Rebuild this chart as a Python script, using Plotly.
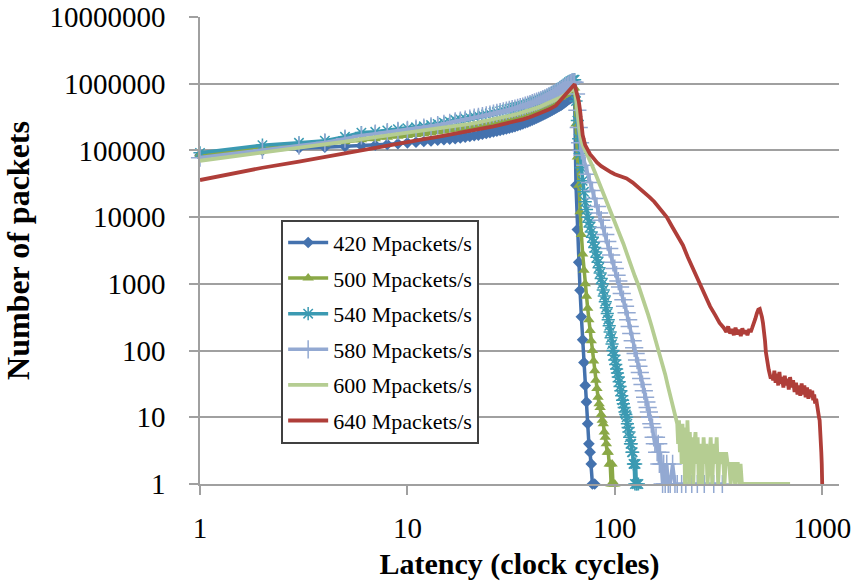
import plotly.graph_objects as go

# ---------------- data (latency in clock cycles, number of packets) ----------------
lat_420 = list(range(1, 79)) + [80]
pk_420 = [85000, 100000, 108000, 112000, 115000, 118000, 120000, 123000, 126000, 130000,
          133000, 136000, 139000, 142000, 145000, 148000, 150000, 154000, 158000, 162000,
          166000, 170000, 175000, 180000, 185000, 190000, 195000, 200000, 205000, 210000,
          215000, 222000, 228000, 235000, 242000, 250000, 258000, 266000, 275000, 285000,
          295000, 305000, 316000, 327000, 338000, 350000, 362000, 375000, 388000, 400000,
          415000, 430000, 445000, 460000, 475000, 495000, 515000, 535000, 560000, 580000,
          600000, 620000, 640000, 650000,
          30000, 6500, 2100, 800, 320, 145, 66, 30, 17, 8, 4, 3, 2, 1, 1]

lat_500 = list(range(1, 99)) + [100]
pk_500 = [88000, 108000, 118000, 125000, 135000, 145000, 150000, 157000, 163000, 168000,
          173000, 178000, 184000, 190000, 196000, 202000, 208000, 214000, 220000, 226000,
          232000, 238000, 245000, 252000, 259000, 266000, 273000, 280000, 288000, 296000,
          304000, 312000, 320000, 330000, 340000, 350000, 360000, 370000, 382000, 394000,
          406000, 418000, 430000, 445000, 460000, 475000, 490000, 505000, 520000, 540000,
          560000, 580000, 600000, 620000, 640000, 665000, 690000, 715000, 740000, 770000,
          800000, 830000, 850000, 860000,
          250000, 80000, 30000, 12000, 5500, 2800, 1600, 1000, 650, 430,
          290, 200, 140, 100, 70, 50, 36, 27, 20, 16,
          14, 11, 9, 8, 6, 5, 4, 3, 3, 2,
          2, 1, 2, 1, 1]

lat_540 = list(range(1, 129)) + [130]
pk_540 = [92000, 120000, 130000, 140000, 160000, 185000, 190000, 200000, 208000, 215000,
          222000, 230000, 240000, 250000, 260000, 270000, 285000, 292000, 300000, 310000,
          320000, 330000, 336000, 345000, 355000, 365000, 375000, 385000, 395000, 405000,
          415000, 425000, 435000, 445000, 455000, 465000, 480000, 495000, 510000, 525000,
          540000, 555000, 570000, 590000, 610000, 630000, 650000, 670000, 690000, 715000,
          740000, 770000, 800000, 830000, 860000, 890000, 930000, 970000, 1010000, 1050000,
          1090000, 1120000, 1150000, 1150000,
          550000, 280000, 150000, 90000, 55000, 35000, 24000, 17000, 13000, 10000,
          8400, 7100, 6000, 5000, 4200, 3500, 3000, 2500, 2100, 1750,
          1450, 1200, 1000, 810, 660, 540, 440, 360, 290, 235,
          190, 155, 125, 100, 85, 72, 62, 53, 46, 40,
          34, 29, 25, 21, 18, 16, 14, 12, 11, 10,
          8, 7, 6, 5, 4, 4, 3, 3, 2, 2,
          1, 2, 1, 1, 1]

lat_580 = list(range(1, 66)) + [66, 67, 68, 69, 70, 72, 74, 76, 78, 80, 82, 84, 86, 88, 90,
                                  92, 94, 96, 98, 100, 102, 104, 106, 108, 110, 112, 114, 116,
                                  118, 120, 122, 124, 126, 128, 130, 132, 134, 136, 138, 140,
                                  142, 144, 146, 148, 150, 152, 154, 156, 158, 160, 162, 164,
                                  166, 168, 170, 172, 175, 178, 181, 185, 190, 195, 200, 210,
                                  220, 235, 250, 270, 300, 330]
pk_580 = [78000, 102000, 118000, 132000, 150000, 168000, 178000, 188000, 196000, 204000,
          212000, 220000, 230000, 240000, 250000, 260000, 272000, 280000, 290000, 300000,
          310000, 318000, 326000, 335000, 345000, 355000, 365000, 375000, 385000, 395000,
          405000, 415000, 425000, 435000, 445000, 455000, 468000, 482000, 496000, 510000,
          524000, 538000, 553000, 570000, 588000, 606000, 625000, 645000, 665000, 688000,
          710000, 735000, 760000, 785000, 815000, 845000, 875000, 905000, 940000, 975000,
          1010000, 1040000, 1060000, 1050000, 700000,
          400000, 220000, 130000, 100000, 85000, 60000, 44000, 33000, 25000, 19000,
          14500, 11500, 9000, 7000, 5500, 4300, 3400, 2700, 2100, 1700,
          1350, 1100, 900, 720, 580, 460, 370, 290, 230, 180,
          140, 110, 90, 72, 58, 47, 38, 31, 25, 20,
          17, 14, 12, 10, 8, 7, 5, 4, 5, 3,
          4, 2, 3, 2, 1, 2, 1, 2, 1, 1,
          2, 1, 1, 1, 1, 1, 1, 1, 1, 1]

lat_600 = [1, 2, 3, 4, 5, 6, 7, 8, 9, 10, 12, 14, 16, 18, 20, 22, 24, 26, 28, 30, 32, 34, 36,
           38, 40, 42, 44, 46, 48, 50, 52, 54, 56, 58, 60, 62, 63, 64, 65, 66, 67, 68, 69, 70,
           72, 74, 76, 78, 80, 83, 86, 90, 95, 100, 105, 110, 115, 120, 125, 130, 135, 140,
           145, 150, 155, 160, 165, 170, 175, 180, 185, 190, 195, 200, 202, 204, 206, 208,
           210, 212, 214, 216, 218, 220, 222, 224, 226, 228, 230, 233, 236, 239, 242, 245,
           248, 251, 254, 257, 260, 264, 268, 272, 276, 280, 285, 290, 295, 300, 305, 310,
           315, 320, 326, 332, 338, 344, 350, 356, 362, 368, 374, 380, 386, 392, 398, 404,
           410, 450, 500, 600, 700]
pk_600 = [70000, 92000, 108000, 122000, 135000, 148000, 158000, 166000, 174000, 181000,
          195000, 208000, 222000, 236000, 250000, 263000, 277000, 292000, 307000, 322000,
          338000, 355000, 372000, 392000, 412000, 435000, 460000, 487000, 515000, 545000,
          578000, 612000, 650000, 690000, 740000, 800000, 850000, 900000, 600000, 380000,
          250000, 180000, 140000, 120000, 100000, 85000, 70000, 58000, 48000, 36000,
          27000, 19000, 13000, 9000, 6000, 4000, 2700, 1800, 1300, 950,
          680, 480, 340, 240, 170, 120, 90, 62, 44, 30,
          21, 14, 10, 8, 4, 9, 3, 7, 2, 8,
          3, 6, 1, 7, 2, 9, 4, 1, 6, 2,
          5, 1, 4, 6, 2, 5, 1, 3, 4, 1,
          5, 2, 4, 1, 3, 5, 1, 4, 2, 5,
          1, 3, 2, 3, 1, 3, 2, 2, 1, 2,
          2, 1, 2, 2, 1, 2, 1, 1, 1, 1,
          1]

lat_640 = [1, 2, 3, 4, 5, 6, 7, 8, 9, 10, 12, 14, 16, 18, 20, 23, 26, 30, 33, 36, 40, 44, 48,
           52, 56, 58, 60, 62, 64, 66, 67, 68, 69, 70, 72, 74, 76, 78, 82, 86, 91, 96, 100,
           107, 114, 122, 130, 140, 147, 155, 165, 178, 190, 200, 213, 225, 240, 255, 270,
           288, 305, 320, 335, 345, 352, 360, 368, 375, 382, 390, 398, 405, 412, 420, 428,
           436, 445, 452, 460, 468, 476, 484, 492, 500, 506, 512, 518, 524, 530, 535, 540,
           546, 552, 558, 565, 572, 580, 588, 596, 605, 614, 622, 630, 640, 650, 660, 670,
           680, 690, 700, 712, 724, 736, 748, 760, 772, 784, 796, 808, 820, 832, 845, 858,
           870, 882, 895, 905, 915, 925, 935, 945, 955, 965, 972, 978, 984, 990, 995, 1000]
pk_640 = [36000, 55000, 68000, 80000, 92000, 103000, 112000, 120000, 127000, 134000,
          148000, 160000, 172000, 183000, 195000, 212000, 230000, 255000, 272000, 292000,
          325000, 365000, 410000, 470000, 600000, 700000, 780000, 880000, 980000, 700000,
          550000, 400000, 250000, 170000, 120000, 100000, 88000, 80000, 66000, 58000,
          51000, 47000, 44000, 41000, 38000, 33000, 28000, 23000, 20000, 17000,
          13500, 10000, 7000, 5300, 3800, 2500, 1600, 1000, 680, 460,
          340, 260, 220, 190, 230, 180, 210, 170, 220, 175,
          205, 165, 215, 180, 200, 170, 210, 190, 220, 250,
          300, 360, 410, 420, 380, 320, 260, 200, 140, 95,
          75, 60, 52, 45, 38, 42, 36, 50, 33, 45,
          30, 48, 32, 40, 28, 42, 30, 38, 26, 40,
          28, 36, 24, 33, 22, 30, 21, 32, 22, 30,
          20, 28, 19, 26, 20, 25, 18, 22, 16, 19,
          14, 12, 10, 9, 7, 5, 3, 2, 1]

series_names = ["420 Mpackets/s", "500 Mpackets/s", "540 Mpackets/s",
                "580 Mpackets/s", "600 Mpackets/s", "640 Mpackets/s"]

y_tickvals = [1, 10, 100, 1000, 10000, 100000, 1000000, 10000000]
y_ticktext = ["1", "10", "100", "1000", "10000", "100000", "1000000", "10000000"]
x_tickvals = [1, 10, 100, 1000]
x_ticktext = ["1", "10", "100", "1000"]

# ---------------- styles ----------------
FONT = "Liberation Serif"
styles = [
    dict(color="#4472AE", symbol="diamond", size=9, mlw=0),
    dict(color="#8AA846", symbol="triangle-up", size=10, mlw=0),
    dict(color="#3B9AB2", symbol="asterisk-open", size=11, mlw=1.5),
    dict(color="#93A9D2", symbol="cross-thin-open", size=13, mlw=1.5),
    dict(color="#B5CD92", symbol=None, size=0, mlw=0),
    dict(color="#AF3E39", symbol=None, size=0, mlw=0),
]
data = [(lat_420, pk_420), (lat_500, pk_500), (lat_540, pk_540),
        (lat_580, pk_580), (lat_600, pk_600), (lat_640, pk_640)]

fig = go.Figure()
for i, ((xs, ys), name, st) in enumerate(zip(data, series_names, styles)):
    if st["symbol"]:
        fig.add_trace(go.Scatter(
            x=xs, y=ys, name=name, mode="lines+markers", legendgroup=name,
            line=dict(color=st["color"], width=3.5),
            marker=dict(symbol=st["symbol"], size=st["size"], color=st["color"],
                        line=dict(color=st["color"], width=st["mlw"])),
            cliponaxis=False))
    else:
        fig.add_trace(go.Scatter(
            x=xs, y=ys, name=name, mode="lines", legendgroup=name,
            line=dict(color=st["color"], width=3.8)))

fig.update_layout(
    width=853, height=583,
    margin=dict(l=200, r=14, t=17, b=99, autoexpand=False),
    paper_bgcolor="white", plot_bgcolor="white",
    font=dict(family=FONT, color="black"),
    showlegend=True,
    legend=dict(x=0.127, y=0.566, xanchor="left", yanchor="top",
                bgcolor="white", bordercolor="#404040", borderwidth=2,
                font=dict(family=FONT, size=22, color="black"),
                tracegroupgap=4, itemwidth=40),
)
fig.update_xaxes(
    type="log", range=[0, 3.081], automargin=False, ticklabeloverflow="allow",
    tickvals=x_tickvals, ticktext=x_ticktext,
    tickfont=dict(family=FONT, size=29, color="black"),
    showgrid=False, showline=True, linecolor="#A0A0A0", linewidth=1.5,
    ticks="outside", ticklen=9, tickcolor="#A0A0A0", tickwidth=1.5,
    ticklabelstandoff=8, zeroline=False,
    title=dict(text="<b>Latency (clock cycles)</b>", font=dict(family=FONT, size=30, color="black"),
               standoff=10),
)
fig.update_yaxes(
    type="log", range=[0, 7], automargin=False, ticklabeloverflow="allow",
    tickvals=y_tickvals, ticktext=y_ticktext,
    tickfont=dict(family=FONT, size=29, color="black"),
    showgrid=True, gridcolor="#A0A0A0", gridwidth=1.5,
    showline=True, linecolor="#A0A0A0", linewidth=1.5,
    ticks="outside", ticklen=9, tickcolor="#A0A0A0", tickwidth=1.5,
    ticklabelstandoff=18, zeroline=False,
    title=dict(text="<b>Number of packets</b>", font=dict(family=FONT, size=32, color="black"),
               standoff=30),
)

# remove the page's default body margin so the figure sits at the window origin
fig.write_html("out.html", config={"displayModeBar": False},
               post_script="document.body.style.margin='0';")
